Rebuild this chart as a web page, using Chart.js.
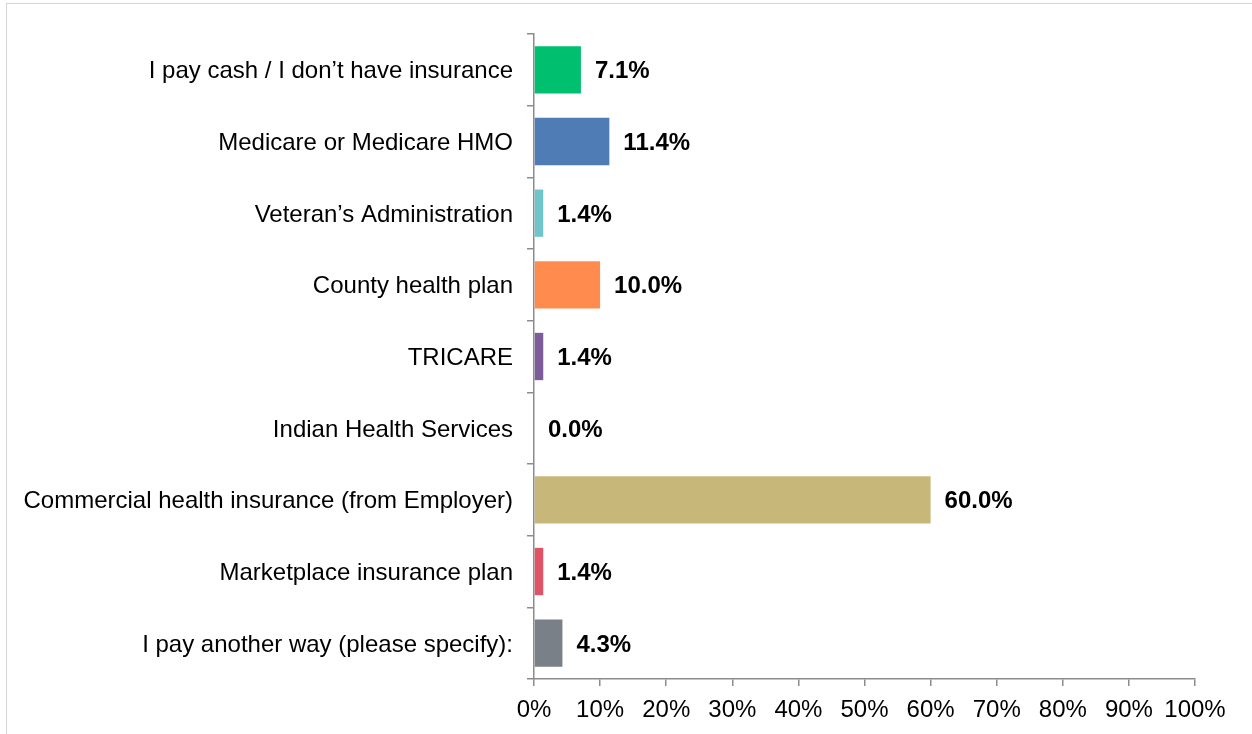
<!DOCTYPE html>
<html>
<head>
    <title>Payment method</title>
    <script src="https://cdn.jsdelivr.net/npm/chart.js"></script>
    <style>
        body { margin: 0; background: #fff; }
        #frame { position: absolute; left: 6px; top: 3px; width: 1252px; height: 740px; border: 1px solid #d4d4d4; box-sizing: border-box; }
        #wrap { position: absolute; left: 0; top: 0; width: 1252px; height: 734px; }
    </style>
</head>
<body>
    <div id="frame"></div>
    <div id="wrap"><canvas id="myChart"></canvas></div>

    <script>
        const categories = [
            'I pay cash / I don\u2019t have insurance',
            'Medicare or Medicare HMO',
            'Veteran\u2019s Administration',
            'County health plan',
            'TRICARE',
            'Indian Health Services',
            'Commercial health insurance (from Employer)',
            'Marketplace insurance plan',
            'I pay another way (please specify):'
        ];
        const values = [7.1, 11.4, 1.4, 10.0, 1.4, 0.0, 60.0, 1.4, 4.3];
        const barColors = ['#00bf6f', '#507cb6', '#6fc5c9', '#ff8b4f', '#7c5c99', '#c9c9c9', '#c7b879', '#e05366', '#7a8087'];
        const xTicks = [0, 10, 20, 30, 40, 50, 60, 70, 80, 90, 100];

        const axisGrey = '#8c8c8c';
        const fontFamily = 'Arial, "Liberation Sans", sans-serif';

        // draws the bold value labels at the end of each bar
        const valueLabels = {
            id: 'valueLabels',
            afterDatasetsDraw(chart) {
                const ctx = chart.ctx;
                const meta = chart.getDatasetMeta(0);
                ctx.save();
                ctx.font = 'bold 24px ' + fontFamily;
                ctx.fillStyle = '#000';
                ctx.textAlign = 'left';
                ctx.textBaseline = 'middle';
                meta.data.forEach((bar, i) => {
                    ctx.fillText(values[i].toFixed(1) + '%', bar.x + 14, bar.y + 2);
                });
                ctx.restore();
            }
        };

        var ctx = document.getElementById('myChart').getContext('2d');
        var myChart = new Chart(ctx, {
            type: 'bar',
            data: {
                labels: categories,
                datasets: [{
                    data: values,
                    backgroundColor: barColors,
                    barPercentage: 0.66,
                    categoryPercentage: 1.0
                }]
            },
            options: {
                indexAxis: 'y',
                responsive: true,
                maintainAspectRatio: false,
                animation: false,
                layout: { padding: { top: 34, right: 57, left: 0, bottom: 0 } },
                plugins: {
                    legend: { display: false },
                    tooltip: { enabled: false }
                },
                scales: {
                    x: {
                        min: 0,
                        max: 100,
                        afterBuildTicks: (axis) => { axis.ticks = xTicks.map(v => ({ value: v })); },
                        afterFit: (axis) => { axis.height = 55; },
                        ticks: {
                            callback: (v) => v + '%',
                            color: '#000',
                            padding: 10,
                            maxRotation: 0,
                            font: { size: 24, family: fontFamily }
                        },
                        grid: { drawOnChartArea: false, drawTicks: true, tickLength: 7, color: axisGrey, lineWidth: 1.5 },
                        border: { color: axisGrey, width: 1.5 }
                    },
                    y: {
                        afterFit: (axis) => { axis.width = 534; },
                        ticks: {
                            color: '#000',
                            padding: 14,
                            labelOffset: 2,
                            font: { size: 24, family: fontFamily }
                        },
                        grid: { offset: true, drawOnChartArea: false, drawTicks: true, tickLength: 7, color: axisGrey, lineWidth: 1.5 },
                        border: { color: axisGrey, width: 1.5 }
                    }
                }
            },
            plugins: [valueLabels]
        });
    </script>
</body>
</html>
